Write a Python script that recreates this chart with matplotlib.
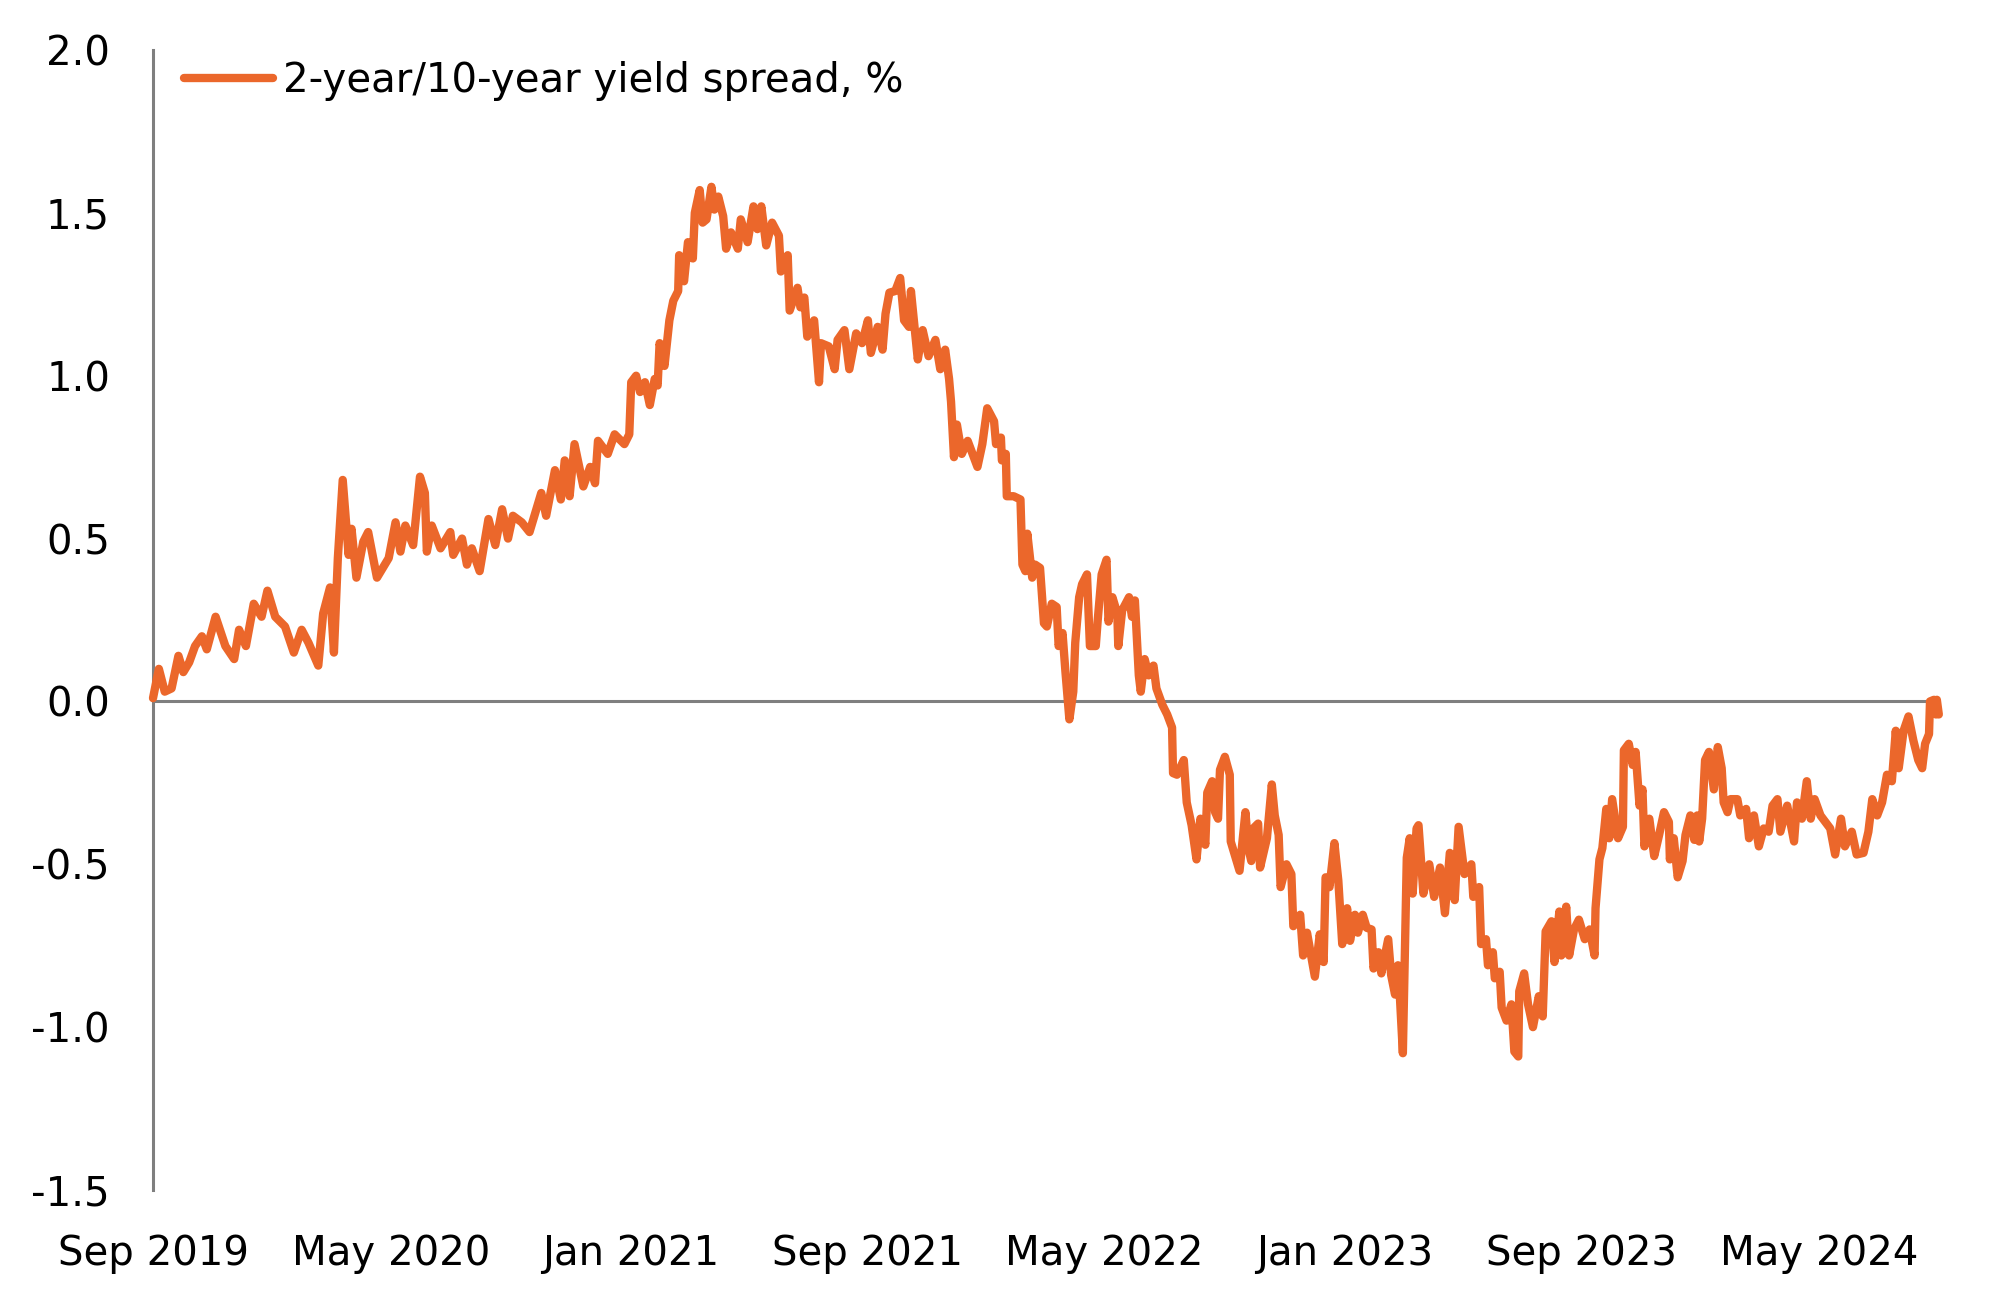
import matplotlib
matplotlib.use("Agg")
import matplotlib.pyplot as plt
import matplotlib.dates as mdates
import matplotlib.ticker as mticker
import pandas as pd
import numpy as np

plt.rcParams['font.family'] = ['DejaVu Sans']

# ---- data ----
start_date = "2019-09-01"
# days since start_date
day_offsets = [
    0, 6, 12, 19, 26, 31, 37, 43, 50, 55, 64, 74, 83, 88, 95, 103, 111, 117, 125, 135,
    144, 152, 159, 169, 174, 181, 185, 189, 194, 200, 203, 208, 215, 220, 229, 241, 248, 253, 258, 266,
    273, 278, 280, 285, 294, 304, 307, 316,
    321, 326, 334, 343, 350, 357, 363, 368, 377, 385, 397, 402, 411, 417, 421, 426, 431, 440, 447, 452,
    455, 465, 472, 482, 487, 489, 494, 498, 503, 508, 513, 516, 518, 523, 528, 532, 537, 538, 543, 547,
    552, 554, 559, 562, 566, 571, 574, 578, 583, 586, 591, 598, 601, 608, 614, 618, 622, 627, 633,
    640, 642, 649, 651, 659, 662, 666, 669, 676, 681, 683, 691, 697, 700, 707, 712, 719, 725, 731, 734,
    741, 746, 749, 753, 759, 764, 768, 773, 775, 782, 787, 793, 800, 805, 810, 814, 816, 819, 822, 827,
    833, 843, 848, 853, 860, 862, 867, 868, 872, 873, 880, 887, 889, 892, 894, 899, 902, 907, 911, 914,
    919, 924, 926, 930, 933, 937, 941, 943, 947, 950, 955, 958, 964, 966, 970, 975, 977, 981, 986, 987,
    991, 998, 1001, 1004, 1008, 1010, 1014, 1018, 1023, 1026, 1032, 1037, 1042, 1043, 1047, 1054, 1057, 1062, 1067, 1071,
    1076, 1078, 1083, 1086, 1089, 1091, 1096, 1101, 1102, 1106, 1111, 1117, 1120, 1123, 1125, 1130, 1132, 1139, 1144, 1147,
    1151, 1153, 1159, 1164, 1166, 1173, 1176, 1180, 1188, 1193, 1197, 1199, 1203, 1208, 1212, 1216, 1221, 1224, 1229, 1232,
    1237, 1241, 1246, 1248, 1253, 1256, 1263, 1266, 1270, 1273, 1275, 1278, 1282, 1285, 1288, 1292, 1294, 1299, 1305, 1310,
    1316, 1321, 1326, 1331, 1335, 1341, 1348, 1350, 1356, 1358, 1363, 1365, 1370, 1372, 1377, 1379, 1384, 1389, 1392, 1396,
    1397, 1402, 1406, 1411, 1417, 1421, 1424, 1430, 1433, 1438, 1440, 1445, 1448, 1453, 1458, 1464, 1469, 1474, 1475, 1479,
    1482, 1486, 1489, 1492, 1498, 1503, 1504, 1509, 1513, 1516, 1520, 1523, 1525, 1530, 1535, 1540, 1545, 1550, 1551, 1555,
    1559, 1564, 1567, 1572, 1576, 1579, 1581, 1584, 1587, 1591, 1596, 1600, 1604, 1606, 1610, 1613, 1620, 1623, 1629, 1632,
    1637, 1642, 1647, 1652, 1656, 1661, 1664, 1671, 1678, 1681, 1686, 1691, 1695, 1699, 1705, 1710, 1715, 1720, 1726, 1730,
    1737, 1742, 1749, 1754, 1758, 1763, 1768, 1773, 1778, 1782, 1785, 1790, 1795, 1800, 1805, 1809, 1812, 1816, 1817, 1821,
    1823, 1824, 1826,
]
spread = [
    0.01, 0.10, 0.03, 0.04, 0.14, 0.09, 0.12, 0.17, 0.20, 0.16, 0.26, 0.17, 0.13, 0.22, 0.17, 0.30, 0.26, 0.34, 0.26, 0.23,
    0.15, 0.22, 0.18, 0.11, 0.27, 0.35, 0.15, 0.44, 0.68, 0.45, 0.53, 0.38, 0.49, 0.52, 0.38, 0.44, 0.55, 0.46, 0.54, 0.48,
    0.69, 0.64, 0.46, 0.54, 0.47, 0.52, 0.45, 0.50,
    0.42, 0.47, 0.40, 0.56, 0.48, 0.59, 0.50, 0.57, 0.55, 0.52, 0.64, 0.57, 0.71, 0.62, 0.74, 0.63, 0.79, 0.66, 0.72, 0.67,
    0.80, 0.76, 0.82, 0.79, 0.82, 0.98, 1.00, 0.95, 0.98, 0.91, 0.99, 0.97, 1.10, 1.03, 1.17, 1.23, 1.26, 1.37, 1.29, 1.41,
    1.36, 1.50, 1.57, 1.47, 1.48, 1.58, 1.51, 1.55, 1.49, 1.39, 1.44, 1.39, 1.48, 1.41, 1.52, 1.45, 1.52, 1.40, 1.47,
    1.43, 1.32, 1.37, 1.20, 1.27, 1.21, 1.24, 1.12, 1.17, 0.98, 1.10, 1.09, 1.02, 1.11, 1.14, 1.02, 1.13, 1.10, 1.17, 1.07,
    1.15, 1.08, 1.19, 1.255, 1.26, 1.30, 1.17, 1.15, 1.26, 1.05, 1.14, 1.06, 1.11, 1.02, 1.08, 0.99, 0.92, 0.75, 0.85, 0.76,
    0.80, 0.72, 0.79, 0.90, 0.86, 0.79, 0.81, 0.74, 0.76, 0.63, 0.63, 0.62, 0.42, 0.40, 0.515, 0.38, 0.42, 0.41, 0.24, 0.23,
    0.30, 0.29, 0.17, 0.21, 0.09, -0.055, 0.03, 0.18, 0.32, 0.36, 0.39, 0.17, 0.17, 0.25, 0.39, 0.435, 0.245, 0.32, 0.27, 0.17,
    0.28, 0.32, 0.26, 0.31, 0.08, 0.03, 0.13, 0.08, 0.11, 0.04, -0.01, -0.04, -0.08, -0.22, -0.225, -0.18, -0.31, -0.38, -0.485, -0.36,
    -0.44, -0.28, -0.245, -0.34, -0.36, -0.21, -0.17, -0.225, -0.43, -0.47, -0.52, -0.34, -0.45, -0.49, -0.39, -0.375, -0.51, -0.42, -0.255, -0.35,
    -0.41, -0.57, -0.50, -0.53, -0.69, -0.655, -0.78, -0.71, -0.845, -0.715, -0.80, -0.54, -0.57, -0.435, -0.55, -0.745, -0.635, -0.735, -0.655, -0.71,
    -0.655, -0.695, -0.70, -0.82, -0.77, -0.835, -0.73, -0.84, -0.90, -0.81, -0.91, -1.08, -0.48, -0.42, -0.59, -0.39, -0.38, -0.59, -0.50, -0.60,
    -0.51, -0.65, -0.465, -0.61, -0.385, -0.53, -0.50, -0.60, -0.57, -0.745, -0.73, -0.81, -0.77, -0.85, -0.83, -0.94, -0.98, -0.93, -1.075, -1.09,
    -0.89, -0.835, -0.93, -1.00, -0.905, -0.967, -0.706, -0.675, -0.80, -0.645, -0.78, -0.63, -0.78, -0.70, -0.67, -0.73, -0.70, -0.78, -0.635, -0.485,
    -0.45, -0.33, -0.42, -0.30, -0.42, -0.385, -0.15, -0.13, -0.195, -0.155, -0.32, -0.27, -0.445, -0.36, -0.475, -0.41, -0.34, -0.37, -0.485, -0.42,
    -0.54, -0.49, -0.41, -0.35, -0.425, -0.35, -0.43, -0.36, -0.18, -0.155, -0.27, -0.14, -0.205, -0.31, -0.34, -0.30, -0.30, -0.35, -0.33, -0.42,
    -0.35, -0.445, -0.39, -0.40, -0.32, -0.30, -0.40, -0.32, -0.43, -0.31, -0.36, -0.245, -0.36, -0.30, -0.35, -0.37, -0.39, -0.47, -0.36, -0.445,
    -0.40, -0.47, -0.465, -0.40, -0.30, -0.35, -0.31, -0.225, -0.245, -0.09, -0.205, -0.09, -0.046, -0.12, -0.18, -0.205, -0.13, -0.10, 0.0, 0.005,
    -0.04, 0.005, -0.04,
]
series_label = "2-year/10-year yield spread, %"
x_tick_dates = ["2019-09-01", "2020-05-01", "2021-01-01", "2021-09-01",
                "2022-05-01", "2023-01-01", "2023-09-01", "2024-05-01"]
x_tick_labels = ["Sep 2019", "May 2020", "Jan 2021", "Sep 2021",
                 "May 2022", "Jan 2023", "Sep 2023", "May 2024"]
y_ticks = [2.0, 1.5, 1.0, 0.5, 0.0, -0.5, -1.0, -1.5]
x_end = "2024-08-22"

# ---- figure ----
dates = pd.Timestamp(start_date) + pd.to_timedelta(day_offsets, unit="D")

fig = plt.figure(figsize=(19.93, 13.06), dpi=100)
ax = fig.add_axes([153 / 1993, 1 - 1190 / 1306, (1930 - 153) / 1993, (1190 - 50) / 1306])

line_color = "#EB672B"
axis_gray = "#7F7F7F"

ax.axhline(0, color=axis_gray, lw=2.2, zorder=1)
ax.plot(dates, spread, color=line_color, lw=6, solid_joinstyle="round",
        solid_capstyle="round", label=series_label, zorder=3, clip_on=False)

ax.set_ylim(-1.5, 2.0)
ax.set_xlim(pd.Timestamp(start_date), pd.Timestamp(x_end))
ax.set_yticks(y_ticks)
ax.yaxis.set_major_formatter(mticker.FuncFormatter(lambda v, p: f"{v:.1f}".replace("\u2212", "-")))
ax.set_xticks(pd.to_datetime(x_tick_dates))
ax.set_xticklabels(x_tick_labels)

for s in ["top", "right", "bottom"]:
    ax.spines[s].set_visible(False)
ax.spines["left"].set_color(axis_gray)
ax.spines["left"].set_linewidth(2.2)

ax.tick_params(axis="both", length=0, labelsize=29, colors="black")
ax.tick_params(axis="y", pad=31)
ax.tick_params(axis="x", pad=32)

ax.legend(loc="upper left", bbox_to_anchor=(0.0174, 0.99), frameon=False,
          fontsize=29, handlelength=2.2, handletextpad=0.25,
          borderpad=0, borderaxespad=0)

fig.savefig("out.png", dpi=100)
